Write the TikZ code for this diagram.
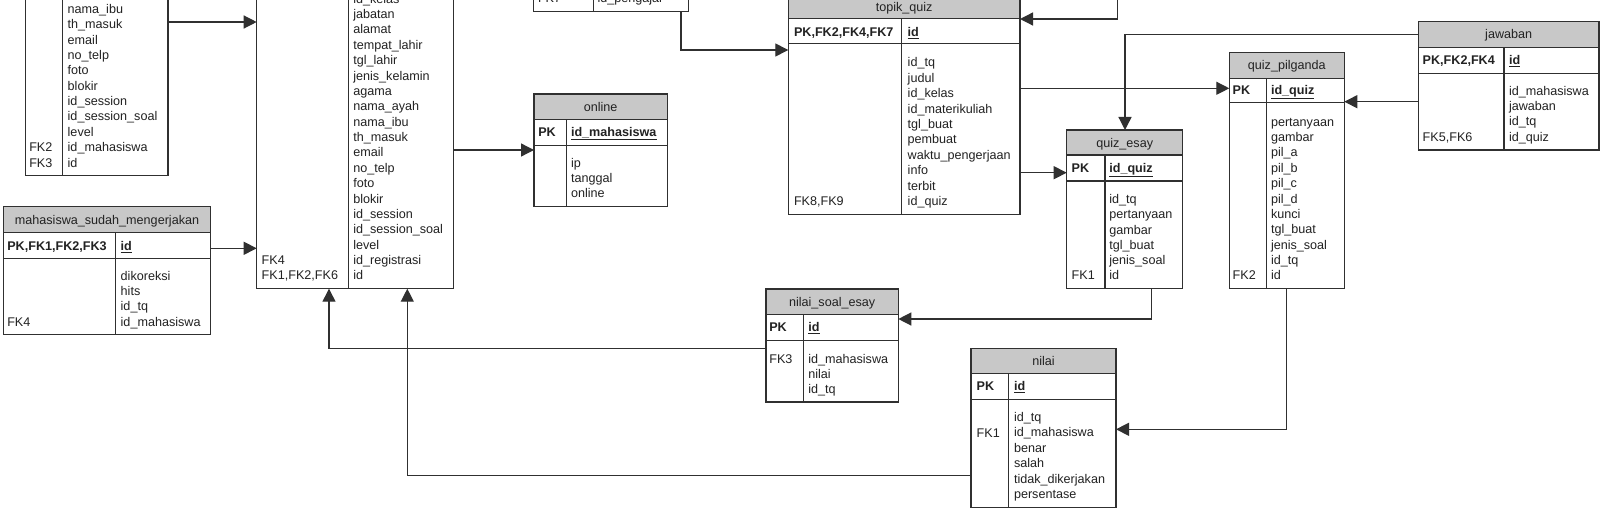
\documentclass[tikz,border=0pt]{standalone}
\usepackage{fontspec}
\setmainfont{Liberation Sans}
\usetikzlibrary{arrows.meta}
\definecolor{hdrgray}{HTML}{C8C8C8}
\definecolor{linegray}{HTML}{303030}
\definecolor{txtgray}{HTML}{222222}
\tikzset{
  txt/.style={inner sep=0pt, outer sep=0pt, text=txtgray, font=\fontsize{12.6}{15}\selectfont, anchor=base west},
  ttl/.style={txt, anchor=base},
  tbl/.style={draw=linegray, line width=1.1pt, rectangle, inner sep=0pt, outer sep=0pt},
  rulel/.style={draw=linegray, line width=1.1pt},
  fk/.style={draw=linegray, line width=1.3pt, -{Triangle[length=13pt,width=13pt]}},
}
% #1 name, #2 x1, #3 x2, #4 top, #5 header bottom, #6 pk bottom, #7 bottom, #8 divider x, #9 title
\newcommand\ertable[9]{%
  \fill[hdrgray] (#2,#4) rectangle (#3,#5);
  \node[tbl, minimum width={(#3-#2)*1pt}, minimum height={(#7-#4)*1pt}] (#1) at ({(#2+#3)/2},{(#4+#7)/2}) {};
  \draw[rulel] (#2,#5) -- (#3,#5) (#2,#6) -- (#3,#6) (#8,#5) -- (#8,#7);
  \node[ttl] (#1-title) at ({(#2+#3)/2},{(#4+#5)/2+4.5}) {#9};
}
% #1 name prefix, #2 x, #3 first row centre y, #4 row pitch, #5 list
\newcommand\errows[5]{%
  \foreach \t [count=\i from 0] in {#5} {\node[txt] (#1-\i) at (#2,{#3+4.5+\i*#4}) {\t};}
}
% #1 name, #2 x, #3 row centre y, #4 text
\newcommand\erlabel[4]{\node[txt] (#1) at (#2,{#3+4.5}) {#4};}
\newcommand\pkf[1]{\underline{\textbf{#1}}}
\begin{document}
\begin{tikzpicture}[x=1pt,y=-1pt]
\useasboundingbox (0,0) rectangle (1600,508);
\clip (0,0) rectangle (1600,508);
\fill[white] (0,0) rectangle (1600,508);

% left upper table (header cut off)
\ertable{tA}{25.7}{168}{-60}{-40}{-20}{175.7}{62.7}{}
\errows{tA-r}{67.7}{9}{15.35}{nama\_ibu, th\_masuk, email, no\_telp, foto, blokir, id\_session, id\_session\_soal, level, id\_mahasiswa, id}
\erlabel{tA-fk2}{29.3}{147.3}{FK2}
\erlabel{tA-fk3}{29.3}{162.7}{FK3}

% middle big table (header cut off)
\ertable{mid}{256.7}{453.3}{-60}{-40}{-20}{288.7}{348.3}{}
\errows{mid-r}{353.3}{-1.3}{15.37}{id\_kelas, jabatan, alamat, tempat\_lahir, tgl\_lahir, jenis\_kelamin, agama, nama\_ayah, nama\_ibu, th\_masuk, email, no\_telp, foto, blokir, id\_session, id\_session\_soal, level, id\_registrasi, id}
\erlabel{mid-fk4}{261.7}{260}{FK4}
\erlabel{mid-fk126}{261.7}{275.3}{FK1,FK2,FK6}

% pengajar table (cut off)
\ertable{pgj}{533.3}{688.3}{-60}{-40}{-20}{11.7}{593.3}{}
\erlabel{pgj-fk7}{538}{-2}{FK7}
\erlabel{pgj-f}{597.5}{-2}{id\_pengajar}

% online
\ertable{onl}{534}{667.3}{94}{119.3}{145.7}{206.7}{566.7}{online}
\erlabel{onl-pk}{538.3}{132}{\textbf{PK}}
\erlabel{onl-pf}{571}{132}{\pkf{id\_mahasiswa}}
\errows{onl-r}{571}{162.7}{15.3}{ip, tanggal, online}

% topik_quiz
\ertable{tq}{788.3}{1020}{-5}{18.3}{43.3}{214.3}{901.7}{topik\_quiz}
\erlabel{tq-pk}{794}{31.7}{\textbf{PK,FK2,FK4,FK7}}
\erlabel{tq-pf}{907.7}{31.7}{\pkf{id}}
\errows{tq-r}{907.7}{62.3}{15.41}{id\_tq, judul, id\_kelas, id\_materikuliah, tgl\_buat, pembuat, waktu\_pengerjaan, info, terbit, id\_quiz}
\erlabel{tq-fk89}{794}{201}{FK8,FK9}

% quiz_esay
\ertable{qe}{1066.7}{1182.7}{130}{155}{181}{288.7}{1105}{quiz\_esay}
\erlabel{qe-pk}{1071.7}{167.7}{\textbf{PK}}
\erlabel{qe-pf}{1109.3}{167.7}{\pkf{id\_quiz}}
\errows{qe-r}{1109.3}{199}{15.26}{id\_tq, pertanyaan, gambar, tgl\_buat, jenis\_soal, id}
\erlabel{qe-fk1}{1071.7}{275.3}{FK1}

% quiz_pilganda
\ertable{qp}{1229.3}{1344.3}{52.7}{78.3}{102.7}{288.7}{1266.7}{quiz\_pilganda}
\erlabel{qp-pk}{1232.7}{90}{\textbf{PK}}
\erlabel{qp-pf}{1271}{90}{\pkf{id\_quiz}}
\errows{qp-r}{1271}{121.7}{15.36}{pertanyaan, gambar, pil\_a, pil\_b, pil\_c, pil\_d, kunci, tgl\_buat, jenis\_soal, id\_tq, id}
\erlabel{qp-fk2}{1232.7}{275.3}{FK2}

% jawaban
\ertable{jw}{1418.3}{1599}{21.7}{47.3}{73.3}{150}{1504}{jawaban}
\erlabel{jw-pk}{1422.7}{60}{\textbf{PK,FK2,FK4}}
\erlabel{jw-pf}{1509}{60}{\pkf{id}}
\errows{jw-r}{1509}{90.7}{15.33}{id\_mahasiswa, jawaban, id\_tq, id\_quiz}
\erlabel{jw-fk56}{1422.7}{136.7}{FK5,FK6}

% nilai_soal_esay
\ertable{nse}{766}{898.3}{289}{314.3}{340.7}{402}{803.3}{nilai\_soal\_esay}
\erlabel{nse-pk}{769.3}{327.3}{\textbf{PK}}
\erlabel{nse-pf}{808.3}{327.3}{\pkf{id}}
\errows{nse-r}{808.3}{359.3}{15}{id\_mahasiswa, nilai, id\_tq}
\erlabel{nse-fk3}{769.3}{359.3}{FK3}

% nilai
\ertable{nl}{971}{1116}{348.3}{373.3}{399.3}{507.3}{1008.7}{nilai}
\erlabel{nl-pk}{976.7}{386}{\textbf{PK}}
\erlabel{nl-pf}{1014}{386}{\pkf{id}}
\errows{nl-r}{1014}{416.7}{15.46}{id\_tq, id\_mahasiswa, benar, salah, tidak\_dikerjakan, persentase}
\erlabel{nl-fk1}{976.7}{432.7}{FK1}

% mahasiswa_sudah_mengerjakan
\ertable{msm}{3.3}{210.7}{206.7}{232.3}{258.3}{334.3}{115.7}{mahasiswa\_sudah\_mengerjakan}
\erlabel{msm-pk}{7.3}{245.7}{\textbf{PK,FK1,FK2,FK3}}
\erlabel{msm-pf}{120.7}{245.7}{\pkf{id}}
\errows{msm-r}{120.7}{275.7}{15.33}{dikoreksi, hits, id\_tq, id\_mahasiswa}
\erlabel{msm-fk4}{7.3}{321.7}{FK4}

% connectors
\coordinate (offtop) at (1117.3,-10);
\draw[fk] (tA.east |- 0,22) -- (mid.west |- 0,22);
\draw[fk] (msm.east |- 0,248.3) -- (mid.west |- 0,248.3);
\draw[fk] (mid.east |- 0,150) -- (onl.west |- 0,150);
\draw[fk] (pgj.south -| 681,0) |- (tq.west |- 0,50);
\draw[fk] (offtop) |- (tq.east |- 0,19);
\draw[fk] (tq.east |- 0,88.3) -- (qp.west |- 0,88.3);
\draw[fk] (tq.east |- 0,172.7) -- (qe.west |- 0,172.7);
\draw[fk] (jw.west |- 0,34.3) -| (qe.north -| 1125,0);
\draw[fk] (jw.west |- 0,101.7) -- (qp.east |- 0,101.7);
\draw[fk] (qe.south -| 1151.7,0) |- (nse.east |- 0,319);
\draw[fk] (qp.south -| 1286.7,0) |- (nl.east |- 0,429.3);
\draw[fk] (nse.west |- 0,348.3) -| (mid.south -| 329,0);
\draw[fk] (nl.west |- 0,475.7) -| (mid.south -| 407.3,0);
\end{tikzpicture}
\end{document}
